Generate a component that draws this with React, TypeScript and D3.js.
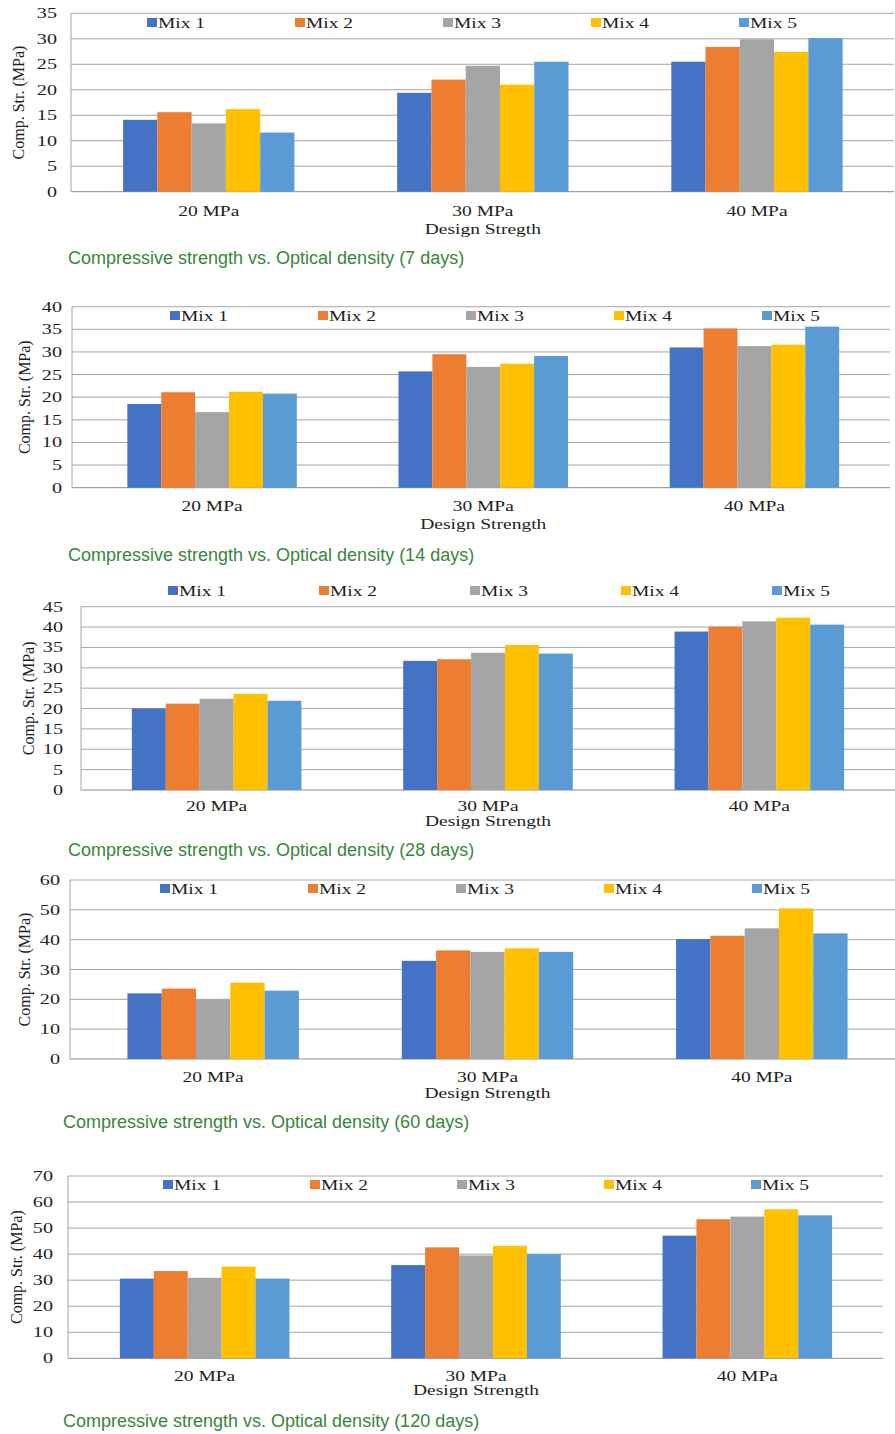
import React from "react";
import * as d3 from "d3";

const categories = ["20 MPa", "30 MPa", "40 MPa"];
const mixes = ["Mix 1", "Mix 2", "Mix 3", "Mix 4", "Mix 5"];
const mixColors = ["#4472C4", "#ED7D31", "#A5A5A5", "#FFC000", "#5B9BD5"];

// values per mix, over 20 / 30 / 40 MPa
const days7 = [
  [14.1, 19.4, 25.5],
  [15.6, 22.0, 28.4],
  [13.4, 24.7, 29.9],
  [16.2, 21.0, 27.4],
  [11.6, 25.5, 30.1],
];
const days14 = [
  [18.5, 25.7, 31.0],
  [21.1, 29.5, 35.2],
  [16.7, 26.7, 31.3],
  [21.2, 27.4, 31.6],
  [20.8, 29.1, 35.6],
];
const days28 = [
  [20.0, 31.7, 38.9],
  [21.2, 32.1, 40.1],
  [22.4, 33.7, 41.4],
  [23.6, 35.6, 42.3],
  [21.9, 33.5, 40.6],
];
const days60 = [
  [22.0, 32.9, 40.2],
  [23.6, 36.4, 41.3],
  [20.0, 35.9, 43.8],
  [25.6, 37.1, 50.5],
  [22.9, 35.9, 42.1],
];
const days120 = [
  [30.6, 35.8, 47.1],
  [33.5, 42.6, 53.4],
  [30.9, 39.5, 54.4],
  [35.2, 43.2, 57.2],
  [30.6, 40.0, 54.9],
];

const yMaxes = [35, 40, 45, 60, 70];
const yStepSizes = [5, 5, 5, 10, 10];
const captions = [
  "Compressive strength vs. Optical density (7 days)",
  "Compressive strength vs. Optical density (14 days)",
  "Compressive strength vs. Optical density (28 days)",
  "Compressive strength vs. Optical density (60 days)",
  "Compressive strength vs. Optical density (120 days)",
];
const xTitles = ["Design Stregth", "Design Strength", "Design Strength", "Design Strength", "Design Strength"];
const yTitle = "Comp. Str. (MPa)";

// layout of each panel
const layouts = [
  { top: 13.3, bottom: 191.7, axisX: 71, x0: 71.7, x1: 894, legY: 23, legX: 147, legStep: 148, tickX: 57, titleX: 18, catY: 216, desY: 234, capY: 264, capX: 68 },
  { top: 306.7, bottom: 487.7, axisX: 72, x0: 76.5, x1: 890, legY: 316, legX: 170, legStep: 148, tickX: 62, titleX: 24, catY: 511, desY: 529, capY: 561, capX: 68 },
  { top: 606.7, bottom: 790, axisX: 81, x0: 81, x1: 895, legY: 591, legX: 168, legStep: 151, tickX: 63, titleX: 28, catY: 811, desY: 826, capY: 856, capX: 68 },
  { top: 880, bottom: 1059, axisX: 70, x0: 76, x1: 899, legY: 889, legX: 160, legStep: 148, tickX: 60, titleX: 24, catY: 1082, desY: 1098, capY: 1128, capX: 63 },
  { top: 1176, bottom: 1358.3, axisX: 68, x0: 69, x1: 883, legY: 1185, legX: 163, legStep: 147, tickX: 53, titleX: 16, catY: 1381, desY: 1395, capY: 1427, capX: 63 },
];

const allData = [days7, days14, days28, days60, days120];

const serif = "'Liberation Serif', 'Times New Roman', serif";
const sans = "'Liberation Sans', Arial, sans-serif";
const stretch = 1.3;
const ink = "#1e1e1e";

function Panel({ idx }: { idx: number }) {
  const L = layouts[idx];
  const data = allData[idx];
  const yMax = yMaxes[idx];
  const y = d3.scaleLinear().domain([0, yMax]).range([L.bottom, L.top]);
  const ticks = d3.range(0, yMax + 0.001, yStepSizes[idx]);
  const x0 = d3
    .scaleBand<string>()
    .domain(categories)
    .range([L.x0, L.x1])
    .paddingInner(0.375)
    .paddingOuter(0.1875);
  const x1 = d3.scaleBand<string>().domain(mixes).range([0, x0.bandwidth()]);

  return (
    <g>
      {/* grid */}
      {ticks.map((t) => (
        <line
          key={"g" + t}
          x1={L.axisX}
          x2={L.x1}
          y1={y(t)}
          y2={y(t)}
          stroke={t === 0 ? "#8c8c8c" : "#a6a6a6"}
          strokeWidth={1}
        />
      ))}
      <line x1={L.axisX} x2={L.axisX} y1={L.top} y2={L.bottom} stroke="#a6a6a6" />
      {ticks.map((t) => (
        <text
          key={"t" + t}
          transform={`translate(${L.tickX},${y(t) + 5}) scale(${stretch},1)`}
          textAnchor="end"
          fontFamily={serif}
          fontSize={15.5}
          fill={ink}
        >
          {t}
        </text>
      ))}
      {/* bars */}
      {mixes.map((m, mi) =>
        categories.map((c, ci) => (
          <rect
            key={m + c}
            x={(x0(c) as number) + (x1(m) as number)}
            y={y(data[mi][ci])}
            width={x1.bandwidth()}
            height={L.bottom - y(data[mi][ci])}
            fill={mixColors[mi]}
          />
        ))
      )}
      {/* legend */}
      {mixes.map((m, mi) => (
        <g key={"l" + m}>
          <rect x={L.legX + mi * L.legStep} y={L.legY - 5} width={10} height={9} fill={mixColors[mi]} />
          <text
            transform={`translate(${L.legX + mi * L.legStep + 11},${L.legY + 5}) scale(${stretch},1)`}
            fontFamily={serif}
            fontSize={15}
            fill={ink}
          >
            {m}
          </text>
        </g>
      ))}
      {/* category labels */}
      {categories.map((c) => (
        <text
          key={"c" + c}
          transform={`translate(${(x0(c) as number) + x0.bandwidth() / 2},${L.catY}) scale(${stretch},1)`}
          textAnchor="middle"
          fontFamily={serif}
          fontSize={15}
          fill={ink}
        >
          {c}
        </text>
      ))}
      <text
        transform={`translate(${(x0(categories[1]) as number) + x0.bandwidth() / 2},${L.desY}) scale(${stretch},1)`}
        textAnchor="middle"
        fontFamily={serif}
        fontSize={15}
        fill={ink}
      >
        {xTitles[idx]}
      </text>
      <text
        transform={`translate(${L.titleX},${(L.top + L.bottom) / 2}) rotate(-90)`}
        textAnchor="middle"
        dy="0.35em"
        fontFamily={serif}
        fontSize={16}
        fill={ink}
      >
        {yTitle}
      </text>
      <text x={L.capX} y={L.capY} fontFamily={sans} fontSize={18} fill="#37863a">
        {captions[idx]}
      </text>
    </g>
  );
}

export default function App() {
  return (
    <div style={{ position: "absolute", left: 0, top: 0, background: "#fff" }}>
      <svg width={895} height={1434} style={{ display: "block" }}>
        <rect width={895} height={1434} fill="#fff" />
        {layouts.map((_, i) => (
          <Panel key={i} idx={i} />
        ))}
      </svg>
    </div>
  );
}
